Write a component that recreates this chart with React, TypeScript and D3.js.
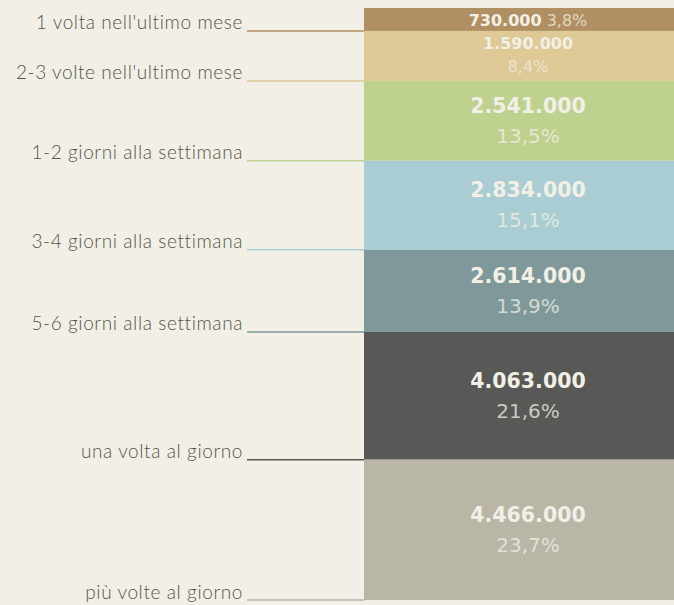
import React from "react";
import * as d3 from "d3";

const categories = [
  "1 volta nell'ultimo mese",
  "2-3 volte nell'ultimo mese",
  "1-2 giorni alla settimana",
  "3-4 giorni alla settimana",
  "5-6 giorni alla settimana",
  "una volta al giorno",
  "più volte al giorno",
];
const values = [730000, 1590000, 2541000, 2834000, 2614000, 4063000, 4466000];
const percents = [3.8, 8.4, 13.5, 15.1, 13.9, 21.6, 23.7];
const colors = ["#b09062", "#dfc997", "#bfd18f", "#a9cdd3", "#7f999b", "#585856", "#b9b6a6"];

const W = 674;
const H = 605;
const LABEL_FONT = "'Lato', 'Noto Sans', sans-serif";
const NUM_FONT = "'DejaVu Sans', 'Noto Sans', sans-serif";

const it = d3.formatLocale({ decimal: ",", thousands: ".", grouping: [3], currency: ["€", ""] });
const fmtNum = it.format(",d");
const fmtPct = (v: number) => it.format(".1f")(v) + "%";

export default function App() {
  const total = d3.sum(values);
  const cum = d3.cumsum(values);
  const y = d3.scaleLinear().domain([0, total]).range([8, 600]);
  const x0 = 364;
  const x1 = 692; // bar runs past the right edge of the view
  const cx = (x0 + x1) / 2;
  const light = "#f2f0e6";

  return (
    <svg width={W} height={H} style={{ position: "absolute", left: 0, top: 0 }}>
      <rect x={0} y={0} width={W} height={H} fill="#f2f0e6" />
      {values.map((v, i) => {
        const top = y(cum[i] - v);
        const bot = y(cum[i]);
        const mid = (top + bot) / 2;
        return (
          <g key={i}>
            <rect x={x0} y={top} width={x1 - x0} height={bot - top} fill={colors[i]} />
            <line x1={247} x2={x0} y1={bot} y2={bot} stroke={colors[i]} strokeWidth={1.5} />
            <text
              x={243}
              y={bot - 1.5}
              textAnchor="end"
              fontFamily={LABEL_FONT}
              fontSize={19}
              fontWeight={300}
              letterSpacing={0.6}
              fill="#55554f"
            >
              {categories[i]}
            </text>
            {i === 0 ? (
              <text x={cx} y={bot - 5} textAnchor="middle" fontFamily={NUM_FONT} fontSize={16} fill={light}>
                <tspan fontWeight="bold">{fmtNum(v)}</tspan>
                <tspan fillOpacity={0.75}> {fmtPct(percents[i])}</tspan>
              </text>
            ) : i === 1 ? (
              <g fontFamily={NUM_FONT}>
                <text x={cx} y={top + 18} textAnchor="middle" fontSize={16} fontWeight="bold" fill={light}>
                  {fmtNum(v)}
                </text>
                <text x={cx} y={top + 41} textAnchor="middle" fontSize={16} fill={light} fillOpacity={0.7}>
                  {fmtPct(percents[i])}
                </text>
              </g>
            ) : (
              <g fontFamily={NUM_FONT}>
                <text x={cx} y={mid - 8} textAnchor="middle" fontSize={20.5} fontWeight="bold" fill={light}>
                  {fmtNum(v)}
                </text>
                <text x={cx} y={mid + 22} textAnchor="middle" fontSize={20} fill={light} fillOpacity={0.75}>
                  {fmtPct(percents[i])}
                </text>
              </g>
            )}
          </g>
        );
      })}
    </svg>
  );
}
